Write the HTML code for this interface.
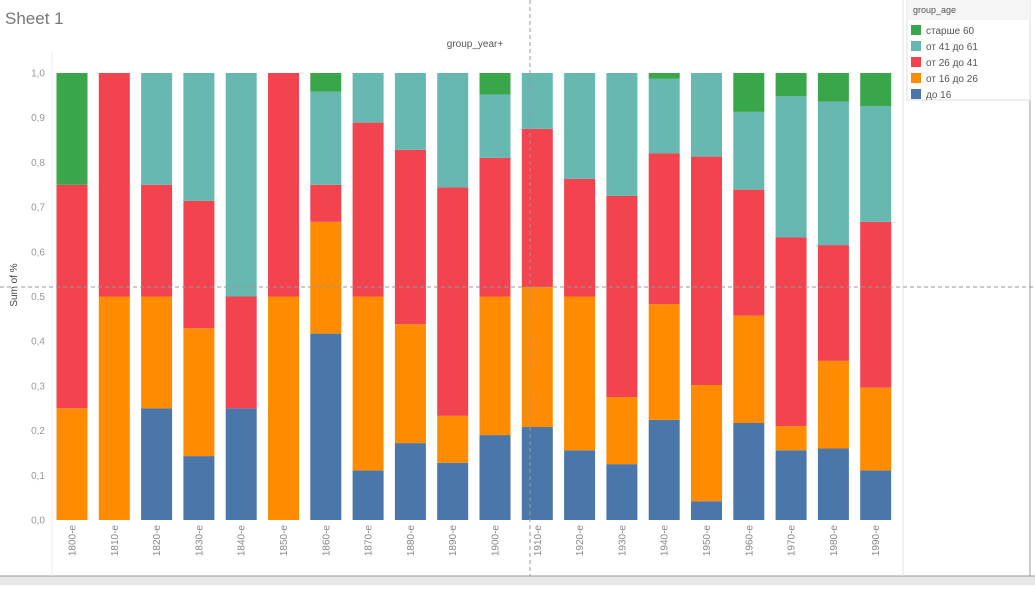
<!DOCTYPE html>
<html><head><meta charset="utf-8">
<style>
html,body{margin:0;padding:0;background:#fff;}
body{width:1035px;height:585px;position:relative;overflow:hidden;font-family:"Liberation Sans",sans-serif;}
</style></head>
<body>
<svg id="chart" width="1035" height="585" xmlns="http://www.w3.org/2000/svg">
  <rect x="0" y="576" width="1035" height="9" fill="#e8e8e8"/>
  <line x1="0" y1="576" x2="1035" y2="576" stroke="#999"/>
  <text x="5" y="24" font-size="17" fill="#777">Sheet 1</text>
  <text x="475" y="47" font-size="10" fill="#555" text-anchor="middle">group_year+</text>
  <text transform="translate(17,285) rotate(-90)" font-size="10" fill="#444" text-anchor="middle">Sum of %</text>
  <line x1="52" y1="52" x2="52" y2="576" stroke="#eee"/>
  <line x1="903" y1="0" x2="903" y2="576" stroke="#e6e6e6"/>
  <line x1="1030" y1="0" x2="1030" y2="576" stroke="#999"/>
  <g id="bars"></g>
  <g id="yticks"></g>
  <g id="xticks"></g>
  <line x1="530" y1="0" x2="530" y2="576" stroke="#999" stroke-dasharray="4,3"/>
  <line x1="0" y1="287" x2="1035" y2="287" stroke="#999" stroke-dasharray="4,3"/>
  <g>
    <rect x="907" y="0" width="123" height="100" fill="#fff" stroke="#ddd"/>
    <rect x="907" y="0" width="123" height="20" fill="#f5f5f5"/>
    <text x="913" y="13" font-size="9" fill="#555">group_age</text>
    <g id="legend-items"></g>
  </g>
</svg>
<script>
const categories = ["1800-e","1810-e","1820-e","1830-e","1840-e","1850-e","1860-e","1870-e","1880-e","1890-e","1900-e","1910-e","1920-e","1930-e","1940-e","1950-e","1960-e","1970-e","1980-e","1990-e"];
const seriesNames = ["до 16","от 16 до 26","от 26 до 41","от 41 до 61","старше 60"];
const seriesColors = ["#4a76aa","#ff8c00","#f2434f","#66b8b0","#3aa64a"];
const s0 = [0,0,0.25,0.143,0.25,0,0.417,0.111,0.172,0.128,0.19,0.208,0.156,0.125,0.224,0.042,0.217,0.156,0.16,0.111];
const s1 = [0.25,0.5,0.25,0.286,0,0.5,0.25,0.389,0.266,0.105,0.31,0.313,0.344,0.15,0.259,0.26,0.24,0.054,0.196,0.185];
const s2 = [0.5,0.5,0.25,0.285,0.25,0.5,0.083,0.389,0.39,0.511,0.31,0.354,0.263,0.45,0.337,0.511,0.282,0.422,0.259,0.371];
const s3 = [0,0,0.25,0.286,0.5,0,0.208,0.111,0.172,0.256,0.142,0.125,0.237,0.275,0.167,0.187,0.174,0.316,0.321,0.259];
const s4 = [0.25,0,0,0,0,0,0.042,0,0,0,0.048,0,0,0,0.013,0,0.087,0.052,0.064,0.074];
const yTicks = ["0,0","0,1","0,2","0,3","0,4","0,5","0,6","0,7","0,8","0,9","1,0"];
const series = [s0,s1,s2,s3,s4];
const NS = "http://www.w3.org/2000/svg";
function yScale(v){ return 520 - v*447; }
function xScale(i){ return 72 + i*42.3; }
const barW = 31;
const gb = document.getElementById('bars');
categories.forEach((c,i)=>{
  let cum = 0;
  series.forEach((s,k)=>{
    const v = s[i];
    if (v>0){
      const r = document.createElementNS(NS,'rect');
      r.setAttribute('x', xScale(i)-barW/2);
      r.setAttribute('y', yScale(cum+v));
      r.setAttribute('width', barW);
      r.setAttribute('height', yScale(cum)-yScale(cum+v));
      r.setAttribute('fill', seriesColors[k]);
      
      
      gb.appendChild(r);
    }
    cum += v;
  });
  const t = document.createElementNS(NS,'text');
  t.setAttribute('transform','translate('+(xScale(i)+3.5)+',525) rotate(-90)');
  t.setAttribute('font-size','10');
  t.setAttribute('fill','#888');
  t.setAttribute('text-anchor','end');
  t.textContent = c;
  
  
  document.getElementById('xticks').appendChild(t);
});
yTicks.forEach((lab,i)=>{
  const t = document.createElementNS(NS,'text');
  t.setAttribute('x', 45);
  t.setAttribute('y', yScale(i/10)+3.5);
  t.setAttribute('font-size','10');
  t.setAttribute('fill','#999');
  t.setAttribute('text-anchor','end');
  t.textContent = lab;
  
  
  document.getElementById('yticks').appendChild(t);
});
const li = document.getElementById('legend-items');
for (let j=0;j<5;j++){
  const k = 4-j;
  const y = 25 + j*16;
  const r = document.createElementNS(NS,'rect');
  r.setAttribute('x',911); r.setAttribute('y',y); r.setAttribute('width',10); r.setAttribute('height',10);
  r.setAttribute('fill',seriesColors[k]);
  
  
  li.appendChild(r);
  const t = document.createElementNS(NS,'text');
  t.setAttribute('x',926); t.setAttribute('y',y+9);
  t.setAttribute('font-size','10'); t.setAttribute('fill','#555');
  t.textContent = seriesNames[k];
  
  
  li.appendChild(t);
}
</script>
</body></html>
